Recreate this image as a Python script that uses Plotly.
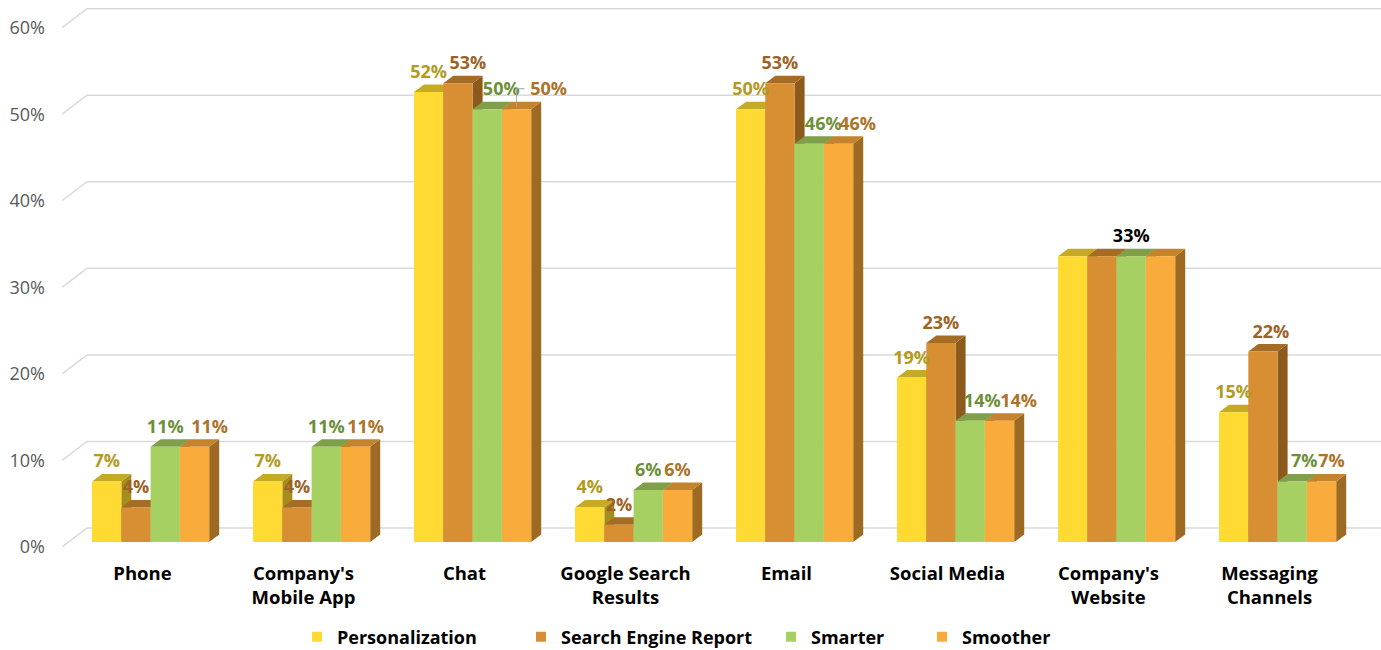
import plotly.graph_objects as go

# ---------------- data ----------------
categories = ["Phone", "Company's<br>Mobile App", "Chat", "Google Search<br>Results",
              "Email", "Social Media", "Company's<br>Website", "Messaging<br>Channels"]
series_names = ["Personalization", "Search Engine Report", "Smarter", "Smoother"]
personalization = [7, 7, 52, 4, 50, 19, 33, 15]
search_engine_report = [4, 4, 53, 2, 53, 23, 33, 22]
smarter = [11, 11, 50, 6, 46, 14, 33, 7]
smoother = [11, 11, 50, 6, 46, 14, 33, 7]
y_ticks = [0, 10, 20, 30, 40, 50, 60]
y_tick_labels = [f"{v}%" for v in y_ticks]

series_values = [personalization, search_engine_report, smarter, smoother]

# ---------------- styles ----------------
front_colors = ["#FEDA32", "#D88E32", "#A7D062", "#F9AB3B"]
top_colors = ["#C6A925", "#A56C25", "#7F9F4A", "#C4832D"]
side_colors = ["#A58C1E", "#8C5A1D", "#6C8A3C", "#9C6A22"]
label_colors = ["#B39A22", "#9C6325", "#6E8F3A", "#AD7329"]
FONT = "Open Sans, Lato, sans-serif"

# ---------------- geometry (pixel sizes converted to axis units) ----------------
W, H = 1381, 650
M_L, M_R, M_T, M_B = 62, 0, 6, 103
Y_MAX = 62.5
px_x = 161.0                              # pixels per category slot
px_y = (H - M_T - M_B) / Y_MAX            # pixels per percentage point
x_max = -0.5 + (W - M_L - M_R) / px_x


def ux(p):
    return p / px_x


def uy(p):
    return p / px_y


bar_w = ux(29.3)
group_left = ux(-50.5)
bar_base = uy(5)
depth_dx, depth_dy = ux(10), uy(7.5)
wall_dx, wall_dy = ux(25), uy(19)

# data-label tweaks (pixel nudges to the right), hidden labels, colour overrides
label_nudge = {(0, 3): 15, (1, 3): 10, (2, 1): 10, (2, 2): 14, (2, 3): 32, (4, 2): 14,
               (4, 3): 19, (5, 2): 12, (5, 3): 19, (7, 1): 8, (7, 2): 12, (7, 3): 10}
label_hidden = {(6, 0), (6, 1), (6, 3)}
label_color_override = {(6, 2): "#000000"}
leader_lines = [(2, 3)]

fig = go.Figure()

# back-wall gridlines with the short slanted segment on the left wall
gx, gy = [], []
for v in y_ticks:
    gx += [-0.5, -0.5 + wall_dx, x_max, None]
    gy += [v, v + wall_dy, v + wall_dy, None]
fig.add_trace(go.Scatter(x=gx, y=gy, mode="lines", line=dict(color="#D9D9D9", width=1.5),
                         hoverinfo="skip", showlegend=False))


def polys_trace(polys, color):
    xs, ys = [], []
    for p in polys:
        for (px, py) in p:
            xs.append(px)
            ys.append(py)
        xs.append(None)
        ys.append(None)
    return go.Scatter(x=xs, y=ys, mode="lines", fill="toself", fillcolor=color,
                      line=dict(width=0, color=color), hoverinfo="skip", showlegend=False)


# 3D-style bars: side, top and front faces drawn series by series (left to right)
for k, vals in enumerate(series_values):
    fronts, tops, sides = [], [], []
    for i, v in enumerate(vals):
        xl = i + group_left + k * bar_w
        xr = xl + bar_w
        b = bar_base
        h = b + v
        fronts.append([(xl, b), (xr, b), (xr, h), (xl, h)])
        tops.append([(xl, h), (xr, h), (xr + depth_dx, h + depth_dy), (xl + depth_dx, h + depth_dy)])
        sides.append([(xr, b), (xr + depth_dx, b + depth_dy), (xr + depth_dx, h + depth_dy), (xr, h)])
    fig.add_trace(polys_trace(sides, side_colors[k]))
    fig.add_trace(polys_trace(tops, top_colors[k]))
    fig.add_trace(polys_trace(fronts, front_colors[k]))

# data labels
for k, vals in enumerate(series_values):
    lx, ly, lt, lc = [], [], [], []
    for i, v in enumerate(vals):
        xl = i + group_left + k * bar_w
        lx.append(xl + bar_w / 2 + ux(label_nudge.get((i, k), 0)))
        ly.append(bar_base + v + depth_dy + uy(11))
        lt.append("" if (i, k) in label_hidden else f"{v}%")
        lc.append(label_color_override.get((i, k), label_colors[k]))
    fig.add_trace(go.Scatter(x=lx, y=ly, mode="text", text=lt, textposition="middle center",
                             textfont=dict(family=FONT, size=18, color=lc, weight=700),
                             cliponaxis=False, hoverinfo="skip", showlegend=False))

# leader lines for labels pulled away from their bars
for (i, k) in leader_lines:
    v = series_values[k][i]
    cx = i + group_left + k * bar_w + bar_w / 2
    top_y = bar_base + v + depth_dy + uy(13)
    fig.add_trace(go.Scatter(x=[cx, cx, cx + ux(8)], y=[bar_base + v + uy(2), top_y, top_y],
                             mode="lines", line=dict(color="#A6A6A6", width=1),
                             hoverinfo="skip", showlegend=False))

# legend entries, one legend box each (positioned relative to the whole figure)
legend_text_px = [332, 556, 806, 957]
legend_ids = ["legend", "legend2", "legend3", "legend4"]
for k, name in enumerate(series_names):
    fig.add_trace(go.Scatter(x=[None], y=[None], mode="markers", name=name,
                             marker=dict(symbol="square", size=10, color=front_colors[k]),
                             legend=legend_ids[k], showlegend=True))

legend_layout = {}
for k, lid in enumerate(legend_ids):
    legend_layout[lid] = dict(
        xref="container", yref="container",
        x=(legend_text_px[k] + 5 - 40) / W, xanchor="left",
        y=(H - 637) / H, yanchor="middle",
        orientation="h", bgcolor="rgba(0,0,0,0)", borderwidth=0,
        font=dict(family=FONT, size=18, color="#000000", weight=700),
    )

fig.update_layout(
    width=W, height=H,
    margin=dict(l=M_L, r=M_R, t=M_T, b=M_B),
    paper_bgcolor="white", plot_bgcolor="white",
    xaxis=dict(range=[-0.5, x_max], tickvals=list(range(len(categories))), ticktext=categories,
               showgrid=False, zeroline=False, showline=False, ticks="",
               tickfont=dict(family=FONT, size=18.5, color="#000000", weight=700),
               ticklabelstandoff=13, fixedrange=True, automargin=False),
    yaxis=dict(range=[0, Y_MAX], tickvals=y_ticks, ticktext=y_tick_labels,
               showgrid=False, zeroline=False, showline=False, ticks="",
               tickfont=dict(family=FONT, size=18, color="#595959"),
               ticklabelstandoff=16, fixedrange=True, automargin=False),
    **legend_layout,
)

fig.write_html("out.html")
